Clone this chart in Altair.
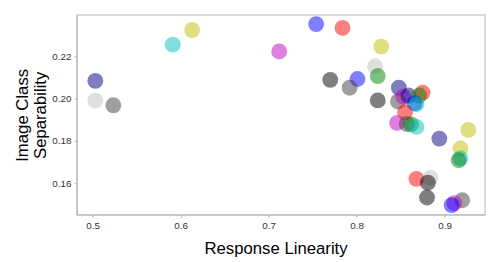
import altair as alt
import pandas as pd

x_vals = [0.503, 0.503, 0.5235, 0.591, 0.613, 0.712, 0.754, 0.784, 0.828, 0.821,
          0.824, 0.770, 0.801, 0.792, 0.824, 0.848, 0.847, 0.853, 0.859, 0.875,
          0.871, 0.866, 0.868, 0.855, 0.846, 0.857, 0.862, 0.868, 0.894, 0.927,
          0.918, 0.918, 0.916, 0.868, 0.884, 0.881, 0.880, 0.920, 0.911, 0.908]
y_vals = [0.2083, 0.1991, 0.1968, 0.2254, 0.2323, 0.2222, 0.2351, 0.2333, 0.2245, 0.2152,
          0.2106, 0.2088, 0.2092, 0.2051, 0.1991, 0.2051, 0.1986, 0.2009, 0.2014, 0.2028,
          0.2014, 0.1977, 0.1973, 0.1935, 0.1885, 0.1880, 0.1878, 0.1866, 0.1811, 0.1852,
          0.1764, 0.1718, 0.1709, 0.1621, 0.1626, 0.1603, 0.1533, 0.1520, 0.1506, 0.1497]
colors = ["#000080", "#c0c0c0", "#404040", "#00bfbf", "#bfbf00", "#bf00bf", "#0000ff", "#ff0000", "#bfbf00", "#c0c0c0",
          "#008000", "#000000", "#0000ff", "#404040", "#000000", "#000080", "#404040", "#bf00bf", "#000080", "#ff0000",
          "#008000", "#0000ff", "#00bfbf", "#ff0000", "#bf00bf", "#404040", "#008000", "#00bfbf", "#000080", "#bfbf00",
          "#bfbf00", "#00bfbf", "#008000", "#ff0000", "#c0c0c0", "#000000", "#000000", "#404040", "#bf00bf", "#0000ff"]

df = pd.DataFrame({"x": x_vals, "y": y_vals, "col": colors})

x_ticks = [0.5, 0.6, 0.7, 0.8, 0.9]
y_ticks = [0.16, 0.18, 0.20, 0.22]

chart = alt.Chart(df).mark_circle(size=260, opacity=0.5).encode(
    x=alt.X("x:Q", scale=alt.Scale(domain=[0.482, 0.946], nice=False, zero=False),
            axis=alt.Axis(values=x_ticks, format=".1f", title="Response Linearity",
                          grid=False, titleFontSize=17, titlePadding=10, titleX=202)),
    y=alt.Y("y:Q", scale=alt.Scale(domain=[0.1452, 0.2394], nice=False, zero=False),
            axis=alt.Axis(values=y_ticks, format=".2f", title=["Image Class", "Separability"],
                          grid=False, titleFontSize=17, titlePadding=2)),
    color=alt.Color("col:N", scale=None),
).properties(
    width=415, height=203,
    autosize=alt.AutoSizeParams(type="none"),
    padding={"left": 70, "top": 5, "right": 5, "bottom": 46},
).configure_view(
    stroke="#cccccc", strokeWidth=1.5
).configure_axis(
    domainColor="#bbbbbb", tickColor="#bbbbbb", tickSize=3,
    labelFont="Liberation Sans", labelFontSize=10, labelColor="#333333",
    titleFont="Liberation Sans", titleFontWeight="normal", titleColor="#000000",
    labelPadding=3,
)

chart.save("out.html", embed_options={"renderer": "svg", "actions": False})
